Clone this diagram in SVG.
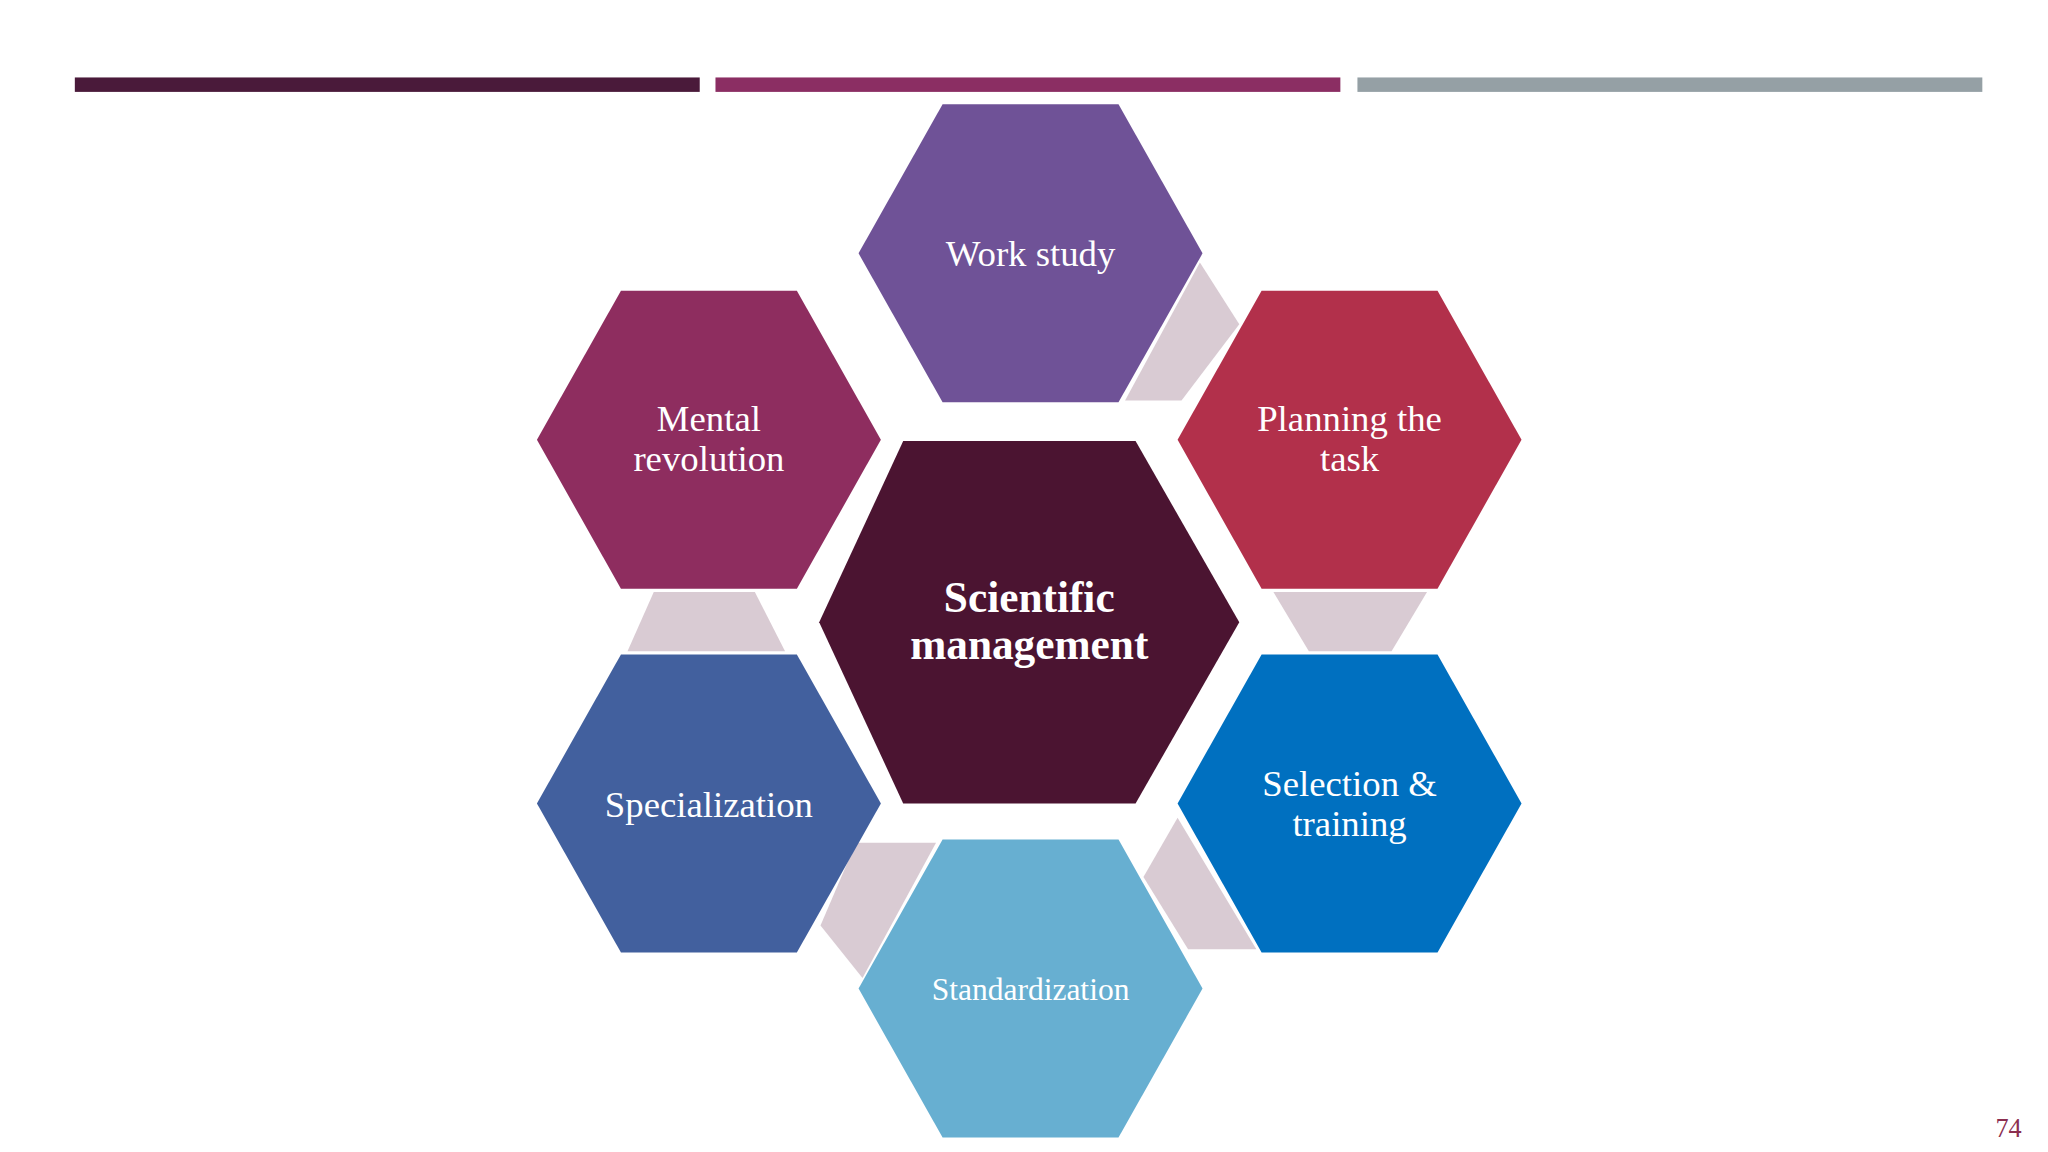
<svg xmlns="http://www.w3.org/2000/svg" width="2048" height="1152" viewBox="0 0 2048 1152">
<style>
.t{font-family:"Liberation Serif","DejaVu Serif",serif;fill:#fff;text-anchor:middle;font-size:28px}
.c{fill:#d9cbd3}
</style>
<defs>
<polygon id="hx" points="-67,-113.5 67,-113.5 131,0 67,113.5 -67,113.5 -131,0"/>
</defs>
<rect width="2048" height="1152" fill="#fff"/>
<g transform="scale(1.3128)">
<rect x="57" y="59" width="476" height="11" fill="#4a1a3a"/>
<rect x="545" y="59" width="476" height="11" fill="#8b2e63"/>
<rect x="1034" y="59" width="476" height="11" fill="#95a0a5"/>
<g id="connectors">
<polygon class="c" points="914,200 944,247 900,305 857,305"/>
<polygon class="c" points="970,451 1087,451 1060,496 997,496"/>
<polygon class="c" points="897,623 957,723 905,723 871,668"/>
<polygon class="c" points="625,705 652,642 713,642 657,745"/>
<polygon class="c" points="498,451 575,451 598,496 478,496"/>
</g>
<g id="work"><use href="#hx" x="785" y="193" fill="#6f5297"/><text class="t" x="785" y="203">Work study</text></g>
<g id="mental"><use href="#hx" x="540" y="335" fill="#8e2d5f"/><text class="t" x="540" y="328">Mental</text><text class="t" x="540" y="359">revolution</text></g>
<g id="planning"><use href="#hx" x="1028" y="335" fill="#b2304b"/><text class="t" x="1028" y="328">Planning the</text><text class="t" x="1028" y="359">task</text></g>
<g id="special"><use href="#hx" x="540" y="612" fill="#42609e"/><text class="t" x="540" y="622">Specialization</text></g>
<g id="selection"><use href="#hx" x="1028" y="612" fill="#0070c0"/><text class="t" x="1028" y="606">Selection &amp;</text><text class="t" x="1028" y="637">training</text></g>
<g id="standard"><use href="#hx" x="785" y="753" fill="#67afd1"/><text class="t" x="785" y="762" style="font-size:24px">Standardization</text></g>
<g id="center"><polygon points="688,336 865,336 944,474 865,612 688,612 624,474" fill="#4b1431"/>
<text class="t" x="784" y="466" style="font-size:33px;font-weight:bold">Scientific</text>
<text class="t" x="784" y="502" style="font-size:33px;font-weight:bold">management</text></g>
<text x="1530" y="866" style="font-family:'Liberation Serif',serif;font-size:20px;fill:#8b2e4f;text-anchor:middle">74</text>
</g>
</svg>
